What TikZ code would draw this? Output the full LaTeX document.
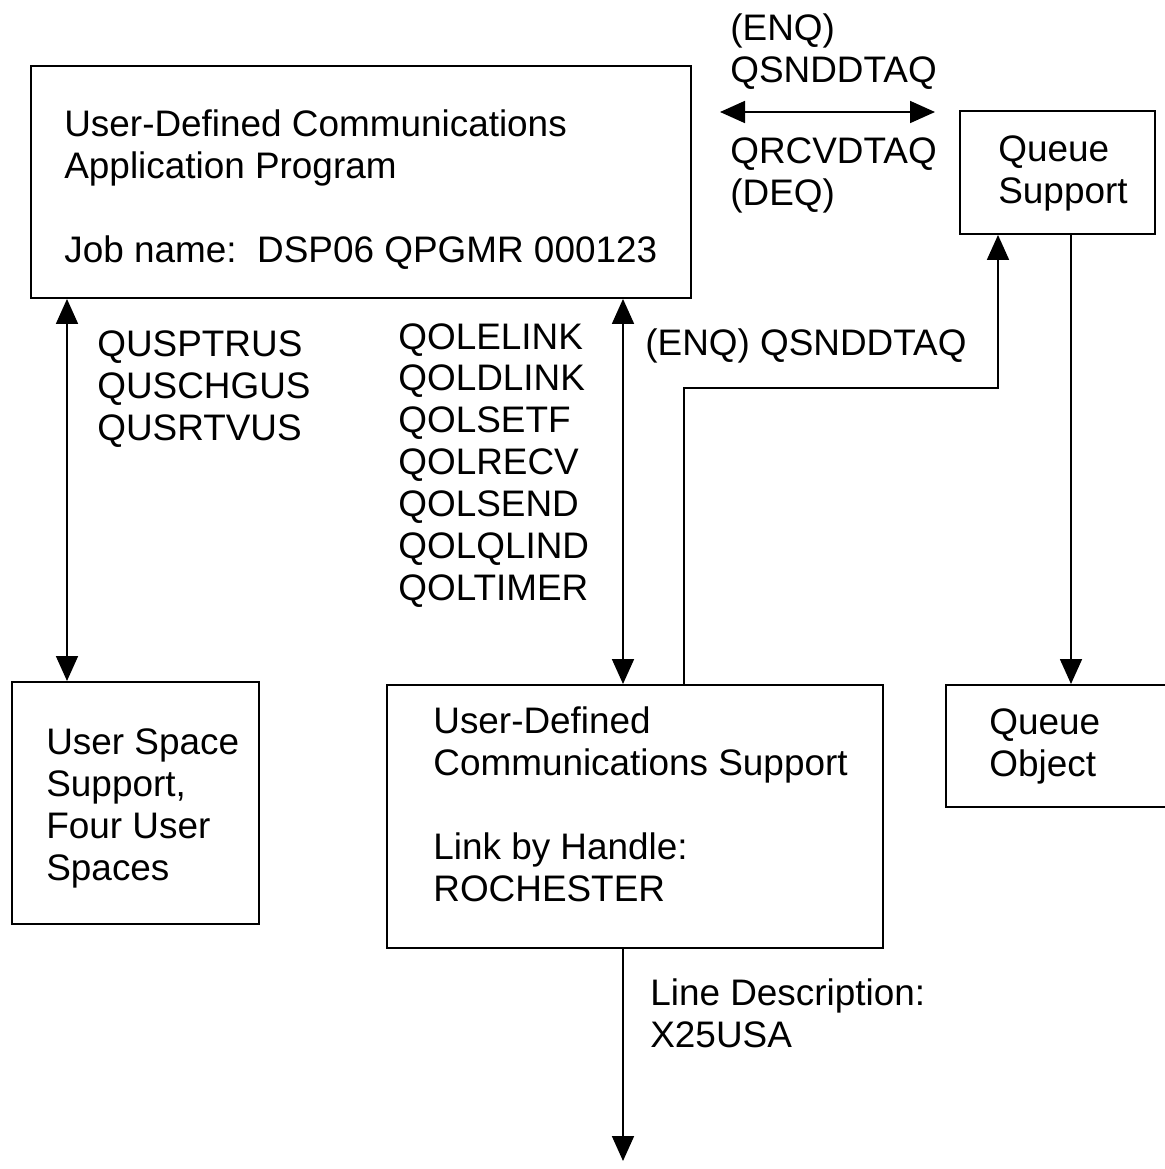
\documentclass[tikz,border=0pt]{standalone}
\usepackage{fontspec}
\setmainfont{Liberation Sans}
\usetikzlibrary{arrows.meta, calc, positioning}

\tikzset{
  box/.style={draw, line width=1.1pt, inner sep=0pt},
  lbl/.style={anchor=base west, align=left, inner sep=0pt, font=\fontsize{21}{23.8}\selectfont},
  arr/.style={line width=1pt, -{Triangle[width=0.44cm,length=0.5cm]}},
  darr/.style={line width=1pt, {Triangle[width=0.44cm,length=0.5cm]}-{Triangle[width=0.44cm,length=0.5cm]}}
}

\begin{document}
\begin{tikzpicture}
\useasboundingbox (0,0) rectangle (23.3,-23.38);

% boxes
\node[box, anchor=north west, minimum width=13.2cm, minimum height=4.64cm] (app) at (0.6,-1.3) {};
\node[box, anchor=north west, minimum width=3.9cm, minimum height=2.46cm] (qsup) at (19.18,-2.2) {};
\node[box, anchor=north west, minimum width=4.94cm, minimum height=4.84cm] (usp) at (0.22,-13.62) {};
\node[box, anchor=north west, minimum width=9.92cm, minimum height=5.26cm] (udc) at (7.72,-13.68) {};
\node[box, anchor=north west, minimum width=4.8cm, minimum height=2.44cm] (qobj) at (18.9,-13.68) {};

% texts (anchored at the baseline of their last line)
\node[lbl] (apptxt) at (1.28,-5.24) {User-Defined Communications\\Application Program\\[23.8pt]Job name:\ \ DSP06 QPGMR 000123};
\node[lbl] (enqtop) at (14.6,-1.64) {(ENQ)\\QSNDDTAQ};
\node[lbl] (deqtop) at (14.6,-4.1) {QRCVDTAQ\\(DEQ)};
\node[lbl] (qsuptxt) at (19.96,-4.06) {Queue\\Support};
\node[lbl] (usapi) at (1.94,-8.8) {QUSPTRUS\\QUSCHGUS\\QUSRTVUS};
\node[lbl] (olapi) at (7.96,-12.0) {QOLELINK\\QOLDLINK\\QOLSETF\\QOLRECV\\QOLSEND\\QOLQLIND\\QOLTIMER};
\node[lbl] (enqmid) at (12.9,-7.1) {(ENQ) QSNDDTAQ};
\node[lbl] (usptxt) at (0.92,-17.6) {User Space\\Support,\\Four User\\Spaces};
\node[lbl] (udctxt) at (8.66,-18.02) {User-Defined\\Communications Support\\[23.8pt]Link by Handle:\\ROCHESTER};
\node[lbl] (qobjtxt) at (19.78,-15.52) {Queue\\Object};
\node[lbl] (linetxt) at (13.0,-20.94) {Line Description:\\X25USA};

% connectors
\coordinate (qleft) at (14.4,-2.24);
\coordinate (qright) at (18.7,-2.24);
\draw[darr] (qleft) -- (qright);

\coordinate (a1) at ($(app.south west)+(0.74,0)$);
\draw[darr] (a1) -- (a1 |- usp.north);

\coordinate (a2) at ($(app.south west)+(11.86,0)$);
\draw[darr] (a2) -- (a2 |- udc.north);

\coordinate (e1) at ($(udc.north west)+(5.96,0)$);
\coordinate (e2) at ($(qsup.south west)+(0.78,0)$);
\draw[arr] (e1) -- (e1 |- 0,-7.76) -| (e2);

\coordinate (d1) at ($(qsup.south west)+(2.24,0)$);
\draw[arr] (d1) -- (d1 |- qobj.north);

\coordinate (lineout) at (12.46,-23.22);
\draw[arr] (udc.south -| a2) -- (lineout);

\end{tikzpicture}
\end{document}
